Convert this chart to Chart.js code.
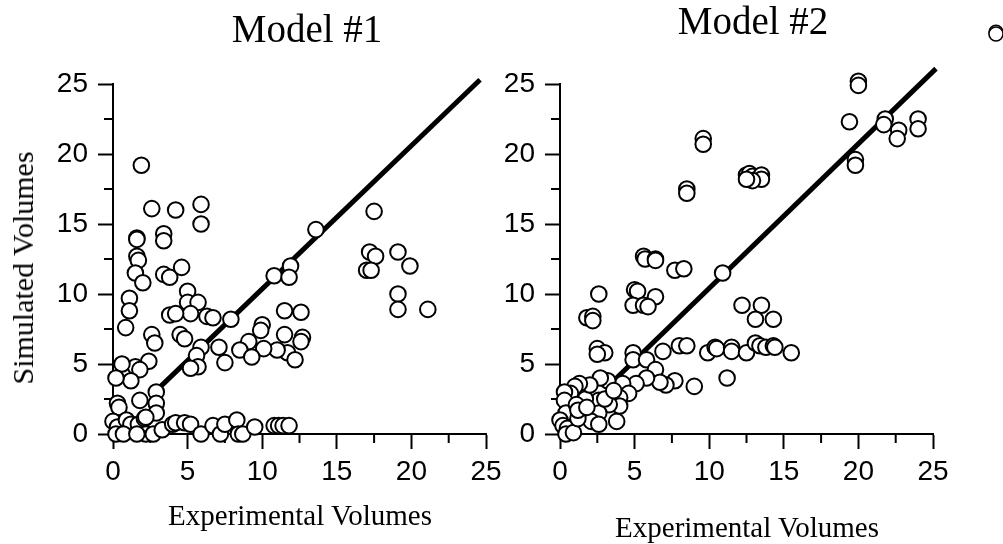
<!DOCTYPE html>
<html>
<head>
<meta charset="utf-8">
<script src="https://cdn.jsdelivr.net/npm/chart.js@4"></script>
<style>
  body { margin: 0; background: #fff; overflow: hidden; width: 1003px; height: 544px; position: relative; }
  canvas { position: absolute; top: 0; }
  .txt { position: absolute; font-family: "Liberation Serif", "Times New Roman", serif; color: #000; white-space: nowrap; transform: translate(-50%, -50%); line-height: 1; }
</style>
</head>
<body>
<canvas id="chart1" width="520" height="544" style="left:0"></canvas>
<canvas id="chart2" width="556" height="544" style="left:447px"></canvas>
<canvas id="corner" width="40" height="40" style="left:976px;top:14px"></canvas>

<div class="txt" style="left:307px;top:28px;font-size:39px">Model #1</div>
<div class="txt" style="left:753px;top:20px;font-size:39px">Model #2</div>
<div class="txt" style="left:23px;top:268px;font-size:30px;transform:translate(-50%,-50%) rotate(-90deg)">Simulated Volumes</div>
<div class="txt" style="left:300px;top:515px;font-size:29px">Experimental Volumes</div>
<div class="txt" style="left:747px;top:527px;font-size:29px">Experimental Volumes</div>

<script>
// tick values on both axes
const tickValues = [0, 5, 10, 15, 20, 25];
const minorTickValues = [2.5, 7.5, 12.5, 17.5, 22.5];

// Model #1 (experimental vs simulated)
const model1X = [1.9, 2.6, 4.2, 5.9, 5.9, 3.4, 3.4, 1.6, 1.6, 1.6, 1.7, 1.5, 2.0, 3.4, 3.8, 4.6,
  1.1, 1.1, 0.85, 5.0, 5.0, 5.7, 5.2, 3.8, 4.2, 6.3, 6.7, 7.9, 2.6, 2.8, 4.5, 4.8,
  10.8, 11.9, 11.8, 13.6, 17.5, 17.2, 17.6, 17.0, 17.3, 19.1, 19.9, 19.1, 19.1, 21.1,
  11.5, 12.6, 11.5, 12.7, 12.6, 11.7, 12.2, 11.0, 10.0, 9.9, 10.1, 9.1, 8.5, 9.3,
  7.1, 7.5, 5.9, 5.6, 5.7, 5.2, 2.4, 1.5, 1.8, 1.2, 0.6, 0.2, 2.9, 2.9, 2.9, 1.8,
  0.3, 0.4, 0.0, 0.3, 0.2, 0.9, 1.2, 1.7, 2.1, 2.2, 2.2, 2.7, 3.3, 4.0, 4.2, 4.8,
  5.2, 5.9, 6.7, 7.2, 7.5, 8.3, 8.4, 8.7, 9.5, 10.8, 11.1, 11.4, 11.8, 0.7, 1.6];
const model1Y = [19.2, 16.1, 16.0, 16.4, 15.0, 14.3, 13.8, 14.0, 13.9, 12.7, 12.4, 11.5, 10.8, 11.4, 11.2, 11.9,
  9.7, 8.8, 7.6, 10.2, 9.4, 9.4, 8.6, 8.5, 8.6, 8.4, 8.3, 8.2, 7.1, 6.5, 7.1, 6.8,
  11.3, 12.0, 11.2, 14.6, 15.9, 13.0, 12.7, 11.7, 11.7, 13.0, 12.0, 10.0, 8.9, 8.9,
  8.8, 8.7, 7.1, 6.9, 6.6, 5.8, 5.3, 6.0, 7.8, 7.4, 6.1, 6.6, 6.0, 5.5,
  6.2, 5.1, 6.2, 5.6, 4.8, 4.7, 5.2, 4.8, 4.6, 3.8, 5.0, 4.0, 3.0, 2.2, 1.5, 2.4,
  2.2, 1.9, 0.9, 0.5, 0.0, 1.0, 0.7, 0.7, 1.1, 1.2, 0.0, 0.0, 0.3, 0.7, 0.8, 0.8,
  0.7, 0.0, 0.6, 0.0, 0.7, 1.0, 0.0, 0.0, 0.5, 0.6, 0.6, 0.6, 0.6, 0.0, 0.0];

// Model #2
const model2X = [20.0, 20.0, 19.4, 21.8, 21.7, 22.7, 22.6, 24.0, 24.0, 19.8, 19.8, 9.6, 9.6, 8.5, 8.5,
  12.5, 12.7, 12.9, 13.5, 13.5, 12.9, 12.5, 10.9, 5.6, 5.7, 6.4, 6.4, 7.7, 8.3,
  2.6, 1.8, 2.2, 2.2, 5.0, 5.2, 6.4, 4.9, 5.6, 5.9, 12.2, 13.5, 13.1, 14.3,
  2.5, 3.0, 2.5, 4.9, 4.9, 6.9, 5.8, 6.4, 8.0, 8.5, 9.9, 10.4, 10.5, 11.5, 11.5,
  12.5, 13.1, 13.4, 13.8, 14.3, 14.4, 15.5, 11.2, 9.0, 7.7, 7.1, 6.7, 5.8, 5.1,
  4.2, 4.6, 3.2, 2.7, 4.0, 3.8, 4.0, 3.3, 2.6, 2.6, 2.1, 2.6, 1.7, 2.0, 1.3, 1.0,
  0.7, 0.3, 0.3, 0.4, 0.0, 0.2, 0.5, 0.4, 0.9, 1.2, 1.1, 1.2, 1.8, 3.0, 3.6];
const model2Y = [25.2, 24.9, 22.3, 22.5, 22.1, 21.7, 21.1, 22.5, 21.8, 19.6, 19.2, 21.1, 20.7, 17.5, 17.2,
  18.5, 18.6, 18.4, 18.5, 18.2, 18.1, 18.2, 11.5, 12.7, 12.5, 12.5, 12.4, 11.7, 11.8,
  10.0, 8.3, 8.4, 8.1, 10.3, 10.2, 9.8, 9.2, 9.2, 9.1, 9.2, 9.2, 8.2, 8.2,
  6.1, 5.8, 5.7, 5.8, 5.3, 5.9, 5.3, 4.6, 6.3, 6.3, 5.8, 6.2, 6.1, 6.2, 5.9,
  5.8, 6.5, 6.3, 6.2, 6.3, 6.2, 5.8, 4.0, 3.4, 3.8, 3.5, 3.7, 4.0, 3.6,
  3.6, 2.9, 3.8, 4.0, 2.6, 0.9, 2.0, 2.1, 2.4, 1.5, 0.9, 0.7, 2.5, 3.5, 3.6, 3.4,
  2.9, 3.0, 2.4, 1.5, 1.0, 0.6, 0.4, 0.0, 0.1, 1.1, 2.1, 1.7, 1.9, 2.5, 3.1];

// fitted lines (start / end)
const fit1X = [2.9, 24.6];
const fit1Y = [3.1, 25.3];
const fit2X = [3.6, 25.2];
const fit2Y = [3.8, 26.1];

// cut-off marker at the top right corner
const cornerX = [0, 0];
const cornerY = [0.15, 0];

const toPoints = (xs, ys) => xs.map((x, i) => ({ x: x, y: ys[i] }));

// short minor ticks, drawn under the points
const minorTicks = {
    id: 'minorTicks',
    beforeDatasetsDraw(chart) {
        const xs = chart.scales.x, ys = chart.scales.y;
        if (!xs.options.display) return;
        const ctx = chart.ctx;
        ctx.save();
        ctx.strokeStyle = '#000';
        ctx.lineWidth = 2;
        ctx.beginPath();
        minorTickValues.forEach(v => {
            const px = xs.getPixelForValue(v);
            ctx.moveTo(px, ys.bottom);
            ctx.lineTo(px, ys.bottom + 9);
            const py = ys.getPixelForValue(v);
            ctx.moveTo(xs.left, py);
            ctx.lineTo(xs.left - 9, py);
        });
        ctx.stroke();
        ctx.restore();
    }
};

function axis(isX) {
    return {
        type: 'linear',
        min: 0,
        max: 25,
        border: { display: true, color: '#000', width: 2 },
        grid: { display: true, drawOnChartArea: false, drawTicks: true, tickLength: 15, tickWidth: 2, tickColor: '#000' },
        ticks: {
            color: '#000',
            padding: isX ? 6 : 10,
            autoSkip: false,
            maxRotation: 0,
            font: { family: '"Liberation Sans", Arial, sans-serif', size: 28 }
        },
        afterBuildTicks: (scale) => { scale.ticks = tickValues.map(v => ({ value: v })); },
        afterFit: (scale) => {
            if (isX) scale.height = 110;
            else scale.width = 113;
        }
    };
}

function makePanel(id, xs, ys, fx, fy, rightPad) {
    new Chart(document.getElementById(id), {
        type: 'scatter',
        data: {
            datasets: [{
                data: toPoints(xs, ys),
                pointRadius: 7.8,
                pointBorderWidth: 2,
                pointBackgroundColor: '#fff',
                pointBorderColor: '#000',
                clip: false
            }, {
                data: toPoints(fx, fy),
                showLine: true,
                borderColor: '#000',
                borderWidth: 5,
                pointRadius: 0,
                clip: false
            }]
        },
        options: {
            responsive: false,
            animation: false,
            events: [],
            layout: { padding: { top: 84, right: rightPad, left: 0, bottom: 0 } },
            plugins: { legend: { display: false }, tooltip: { enabled: false } },
            scales: { x: axis(true), y: axis(false) }
        },
        plugins: [minorTicks]
    });
}

makePanel('chart1', model1X, model1Y, fit1X, fit1Y, 34);
makePanel('chart2', model2X, model2Y, fit2X, fit2Y, 70);

// tiny cut-off marker of the next panel
new Chart(document.getElementById('corner'), {
    type: 'scatter',
    data: {
        datasets: [{
            data: toPoints(cornerX, cornerY),
            pointRadius: 7,
            pointBorderWidth: 1.5,
            pointBackgroundColor: '#fff',
            pointBorderColor: '#000',
            clip: false
        }]
    },
    options: {
        responsive: false,
        animation: false,
        events: [],
        plugins: { legend: { display: false }, tooltip: { enabled: false } },
        scales: {
            x: { display: false, min: -1, max: 1 },
            y: { display: false, min: -1, max: 1 }
        }
    }
});
</script>
</body>
</html>
